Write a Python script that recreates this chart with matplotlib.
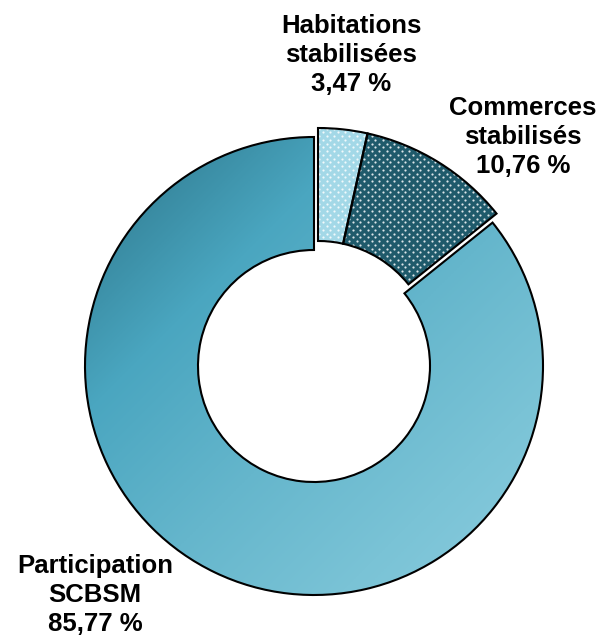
import matplotlib.pyplot as plt
import numpy as np
from matplotlib.patches import Wedge
from matplotlib.colors import LinearSegmentedColormap

# parts of the portfolio (%)
labels = ['Habitations\nstabilisées', 'Commerces\nstabilisés', 'Participation\nSCBSM']
values = [3.47, 10.76, 85.77]
pct_labels = ['3,47 %', '10,76 %', '85,77 %']
colors = ['#a3d8e7', '#1f5a6b', '#4aa9c3']

fig = plt.figure(figsize=(6.02, 6.37), dpi=100)
ax = fig.add_axes([0, 0, 1, 1])

cx, cy, R = 314, 271, 229
ring = 113

wedges, _ = ax.pie(values, colors=colors, startangle=90, counterclock=False,
                   radius=R, center=(cx, cy), frame=True,
                   wedgeprops=dict(width=ring, edgecolor='black', linewidth=1.5))

# white dot texture (staggered lattice) for the two small slices
step = 7.5
lx, ly = [], []
for k, yy in enumerate(np.arange(cy - 10, cy + R + 20, step / 2)):
    xs = np.arange(cx - 10 + (k % 2) * step / 2, cx + R + 20, step)
    lx.extend(xs)
    ly.extend([yy] * len(xs))

# small slices pulled out together
dx, dy = 4, 9
for w in wedges[:2]:
    w.set_center((cx + dx, cy + dy))
    dots = ax.scatter(lx, ly, s=2.5, color='white', alpha=0.85, linewidths=0,
                      zorder=w.get_zorder() + 0.05)
    dots.set_clip_path(w)
    w.set_edgecolor('none')
    ax.add_patch(Wedge(w.center, w.r, w.theta1, w.theta2, width=w.width,
                       facecolor='none', edgecolor='black', linewidth=1.5, zorder=w.get_zorder() + 0.1))

# gradient fill for the big slice
big = wedges[2]
big.set_facecolor('none')
cmap = LinearSegmentedColormap.from_list(
    'teal', [(0, '#327f95'), (0.15, '#3a8ca3'), (0.3, '#4aa6c0'),
             (0.55, '#65b6cc'), (0.78, '#7ac3d6'), (1, '#8ccde0')])
gx, gy = np.meshgrid(np.linspace(0, 1, 300), np.linspace(0, 1, 300))
grad = (gx + (1 - gy)) / 2
img = ax.imshow(grad, cmap=cmap, origin='lower', extent=[cx - R, cx + R, cy - R, cy + R],
                zorder=big.get_zorder() - 0.1, interpolation='bilinear')
img.set_clip_path(big)

ax.set_xlim(0, 602)
ax.set_ylim(0, 637)
ax.set_aspect('equal')
ax.axis('off')

txt = dict(ha='center', va='center', fontsize=18.5, fontweight='bold',
           family=['Liberation Sans', 'DejaVu Sans'], linespacing=1.25)
ax.text(351, 637 - 55, labels[0] + '\n' + pct_labels[0], **txt)
ax.text(523, 637 - 137, labels[1] + '\n' + pct_labels[1], **txt)
ax.text(95, 637 - 595, labels[2] + '\n' + pct_labels[2], **txt)

fig.savefig('out.png', dpi=100)
